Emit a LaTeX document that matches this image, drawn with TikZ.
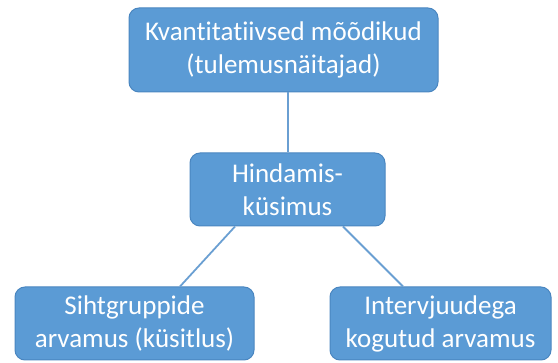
\documentclass[tikz,border=0pt]{standalone}
\usepackage{fontspec}
\setmainfont{Carlito}[RawFeature={-liga}]
\usetikzlibrary{calc}
\definecolor{boxfill}{HTML}{5B9BD5}
\definecolor{boxline}{HTML}{4A86C0}
\definecolor{conn}{HTML}{6A9FD2}
\begin{document}
\begin{tikzpicture}[x=1pt,y=-1pt,
  box/.style={draw=boxline, line width=1pt, fill=boxfill, rounded corners=10pt,
    text=white, align=center, font=\fontsize{27}{33}\selectfont, inner sep=0pt},
  conn/.style={draw=conn, line width=1.8pt}]
\useasboundingbox (0,0) rectangle (558,363);
\node[box, minimum width=309pt, minimum height=84pt] (top) at (283.5,50) {Kvantitatiivsed mõõdikud\\(tulemusnäitajad)};
\node[box, minimum width=195pt, minimum height=73pt] (mid) at (287.5,189.5) {Hindamis-\\küsimus};
\node[box, minimum width=239pt, minimum height=73pt] (left) at (134.5,323.5) {Sihtgruppide\\arvamus (küsitlus)};
\node[box, minimum width=221pt, minimum height=73pt] (right) at (440.5,323.5) {Intervjuudega\\kogutud arvamus};
\coordinate (m1) at ($(mid.south)+(-52.5,0)$);
\coordinate (m2) at ($(mid.south)+(55.5,0)$);
\coordinate (l1) at ($(left.north)+(45.5,0)$);
\coordinate (r1) at ($(right.north)+(-37.5,0)$);
\coordinate (t1) at ($(top.south)+(4.5,0)$);
\draw[conn] (t1) -- (t1 |- mid.north);
\draw[conn] (m1) -- (l1);
\draw[conn] (m2) -- (r1);
\end{tikzpicture}
\end{document}
